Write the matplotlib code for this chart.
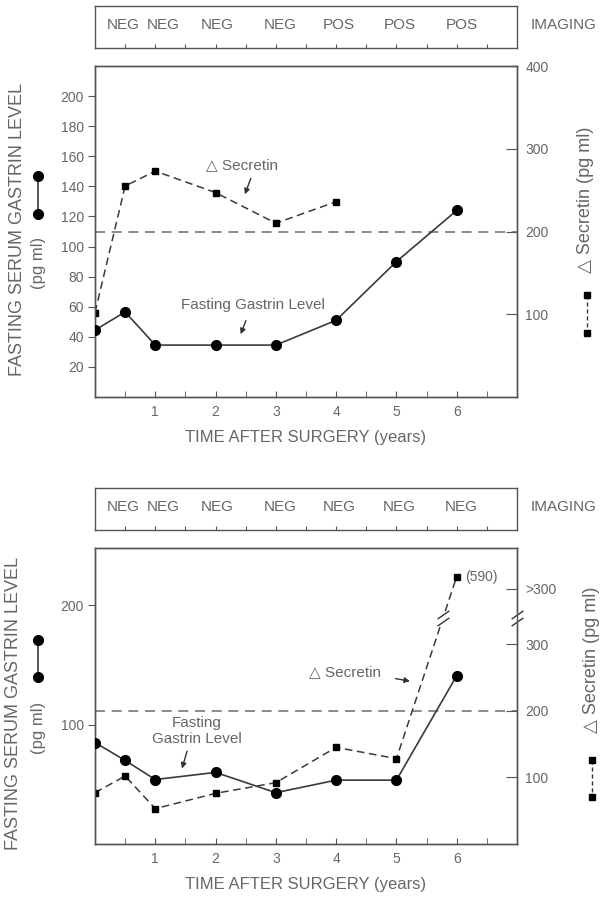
import numpy as np
import matplotlib
matplotlib.use('Agg')
import matplotlib.pyplot as plt
from matplotlib.path import Path
from matplotlib.lines import Line2D

plt.rcParams['font.family'] = ['Liberation Sans', 'DejaVu Sans']

# ---- data ----
years = [0, 0.5, 1, 2, 3, 4, 5, 6]
gastrin_top = [44.5, 56.5, 34.5, 34.5, 34.5, 51, 90, 124]
secretin_top_years = [0, 0.5, 1, 2, 3, 4]
secretin_top = [102, 255, 273, 247, 210, 236]
imaging_years = [0.5, 1, 2, 3, 4, 5, 6]
imaging_top = ['NEG', 'NEG', 'NEG', 'NEG', 'POS', 'POS', 'POS']

gastrin_bot = [85, 70, 54, 60, 43, 53.5, 53.5, 141]
secretin_bot = [77, 102, 53, 76, 92, 145, 128, 590]
imaging_bot = ['NEG', 'NEG', 'NEG', 'NEG', 'NEG', 'NEG', 'NEG']

secretin_limit = 200  # dashed reference line (right axis)

TXT = '#666666'
EDGE = '#555555'
LINE = '#3a3a3a'


def brk(v):
    # broken right axis in the lower panel: values above 340 are squeezed
    v = np.asarray(v, dtype=float)
    return np.where(v <= 340, v, 340 + (v - 340) * 0.245)


fig = plt.figure(figsize=(6.07, 9.0), dpi=100)
W, H = 607.0, 900.0


def frac(x0, y0, x1, y1):
    return [x0 / W, 1 - y1 / H, (x1 - x0) / W, (y1 - y0) / H]


def style_spines(ax):
    for s in ax.spines.values():
        s.set_color(EDGE)
        s.set_linewidth(1.0)


def imaging_box(rect, labels):
    ax = fig.add_axes(rect)
    style_spines(ax)
    ax.set_xlim(0, 7)
    ax.set_ylim(0, 1)
    ax.set_yticks([])
    ax.set_xticks(np.arange(0.5, 7, 0.5))
    ax.set_xticklabels([])
    ax.tick_params(axis='x', direction='in', length=3, color=EDGE)
    nudge = [-0.03, 0.13, 0.03, 0.07, 0.05, 0.05, 0.08]
    for yr, lab, n in zip(imaging_years, labels, nudge):
        ax.text(yr + n, 0.55, lab, ha='center', va='center', fontsize=11, color=TXT)
    ax.text(1.11, 0.55, 'IMAGING', transform=ax.transAxes, ha='center',
            va='center', fontsize=11, color=TXT)
    return ax


def main_axes(rect):
    ax = fig.add_axes(rect)
    style_spines(ax)
    ax.set_xlim(0, 7)
    ax.set_xticks([1, 2, 3, 4, 5, 6])
    ax.set_xticks(np.arange(0.5, 7, 0.5), minor=True)
    ax.tick_params(axis='x', which='both', direction='in', length=4, color=EDGE,
                   labelsize=10, labelcolor=TXT, pad=6)
    ax.tick_params(axis='y', direction='out', length=5, color=EDGE,
                   labelsize=10, labelcolor=TXT, pad=3)
    ax.set_xlabel('TIME AFTER SURGERY (years)', fontsize=12, color=TXT, labelpad=8)
    ax2 = ax.twinx()
    style_spines(ax2)
    ax2.tick_params(axis='y', direction='in', length=8, color=EDGE,
                    labelsize=10, labelcolor=TXT, pad=6)
    return ax, ax2


# ================= top panel =================
imaging_box(frac(95, 6, 517, 48), imaging_top)
ax, ax2 = main_axes(frac(95, 66, 517, 397))
ax.set_ylim(0, 220)
ax.set_yticks(np.arange(20, 201, 20))
ax2.set_ylim(0, 400)
ax2.set_yticks([100, 200, 300, 400])

ax2.axhline(secretin_limit, color='#777777', lw=1.2, dashes=(6, 4), zorder=1)
ax2.plot(secretin_top_years, secretin_top, color=LINE, lw=1.1, dashes=(5, 3),
         marker='s', ms=5, mfc='black', mec='black', zorder=3)
ax.plot(years, gastrin_top, color=LINE, lw=1.2, marker='o', ms=7,
        mfc='black', mec='black', zorder=4)
ax.set_zorder(ax2.get_zorder() + 1)
ax.patch.set_visible(False)

ax.text(2.44, 154, '\u25b3 Secretin', ha='center', va='center', fontsize=11, color=TXT)
ax.annotate('', xy=(2.47, 133), xytext=(2.6, 147),
            arrowprops=dict(arrowstyle='-|>', color='#333333', lw=1, mutation_scale=8))
ax.text(2.62, 61, 'Fasting Gastrin Level', ha='center', va='center', fontsize=11, color=TXT)
ax.annotate('', xy=(2.40, 40), xytext=(2.52, 52.5),
            arrowprops=dict(arrowstyle='-|>', color='#333333', lw=1, mutation_scale=8))

# ================= bottom panel =================
imaging_box(frac(95, 488, 517, 530), imaging_bot)
bx, bx2 = main_axes(frac(95, 548, 517, 844))
bx.set_ylim(0, 248)
bx.set_yticks([100, 200])
bx2.set_ylim(0, 444)
gt_pos = 383
bx2.set_yticks([100, 200, 300, gt_pos])
bx2.set_yticklabels(['100', '200', '300', '>300'])

bx2.axhline(secretin_limit, color='#777777', lw=1.2, dashes=(6, 4), zorder=1)
bx2.plot(years, brk(secretin_bot), color=LINE, lw=1.1, dashes=(5, 3),
         marker='s', ms=5, mfc='black', mec='black', zorder=3)
bx.plot(years, gastrin_bot, color=LINE, lw=1.2, marker='o', ms=7,
        mfc='black', mec='black', zorder=4)
bx.set_zorder(bx2.get_zorder() + 1)
bx.patch.set_visible(False)

# break marks ("//") on the secretin line and on the right axis
brk_marker = Path([(-1, -1.3), (1, 0.1), (-1, -0.1), (1, 1.3)],
                  [Path.MOVETO, Path.LINETO, Path.MOVETO, Path.LINETO])
brk_y = 339
for bxpos in (5.77, 7.0):
    bx2.plot([bxpos], [brk_y], marker='s', ms=7, mfc='white', mec='white',
             zorder=5, clip_on=False)
    bx2.plot([bxpos], [brk_y], marker=brk_marker, ms=11, mfc='none', mec='#333333',
             mew=1.0, zorder=6, clip_on=False)

bx2.annotate('(590)', xy=(6, brk(secretin_bot[-1])), xytext=(6, 0),
             textcoords='offset points', ha='left', va='center', fontsize=10, color=TXT)

bx.text(4.15, 144, '\u25b3 Secretin', ha='center', va='center', fontsize=11, color=TXT)
bx.annotate('', xy=(5.27, 136), xytext=(4.94, 139),
            arrowprops=dict(arrowstyle='-|>', color='#333333', lw=1, mutation_scale=8))
bx.text(1.69, 95, 'Fasting\nGastrin Level', ha='center', va='center', fontsize=11,
        color=TXT, linespacing=1.2)
bx.annotate('', xy=(1.43, 61), xytext=(1.54, 80),
            arrowprops=dict(arrowstyle='-|>', color='#333333', lw=1, mutation_scale=8))

# ================= side labels and key symbols =================
def fx(px):
    return px / W


def fy(py):
    return 1 - py / H


for (lab_x, lab_y, pg_x, pg_y, cx, cy0, cy1, rx, ry, sx, sy0, sy1) in [
        (18, 230, 38, 263, 38, 176, 214, 585, 200, 587, 295, 333),
        (14, 703, 38, 728, 38, 640, 677, 592, 660, 592, 760, 797)]:
    fig.text(fx(lab_x), fy(lab_y), 'FASTING SERUM GASTRIN LEVEL', rotation=90,
             ha='center', va='center', fontsize=13, color=TXT)
    fig.text(fx(pg_x), fy(pg_y), '(pg ml)', rotation=90, ha='center', va='center',
             fontsize=12, color=TXT)
    fig.add_artist(Line2D([fx(cx), fx(cx)], [fy(cy0), fy(cy1)], color=LINE, lw=1.2,
                          marker='o', ms=7, mfc='black', mec='black'))
    fig.text(fx(rx), fy(ry), '\u25b3 Secretin (pg ml)', rotation=90, ha='center',
             va='center', fontsize=13, color=TXT)
    fig.add_artist(Line2D([fx(sx), fx(sx)], [fy(sy0), fy(sy1)], color=LINE, lw=1.0,
                          dashes=(3, 2), marker='s', ms=5, mfc='black', mec='black'))

fig.savefig('out.png', dpi=100)
